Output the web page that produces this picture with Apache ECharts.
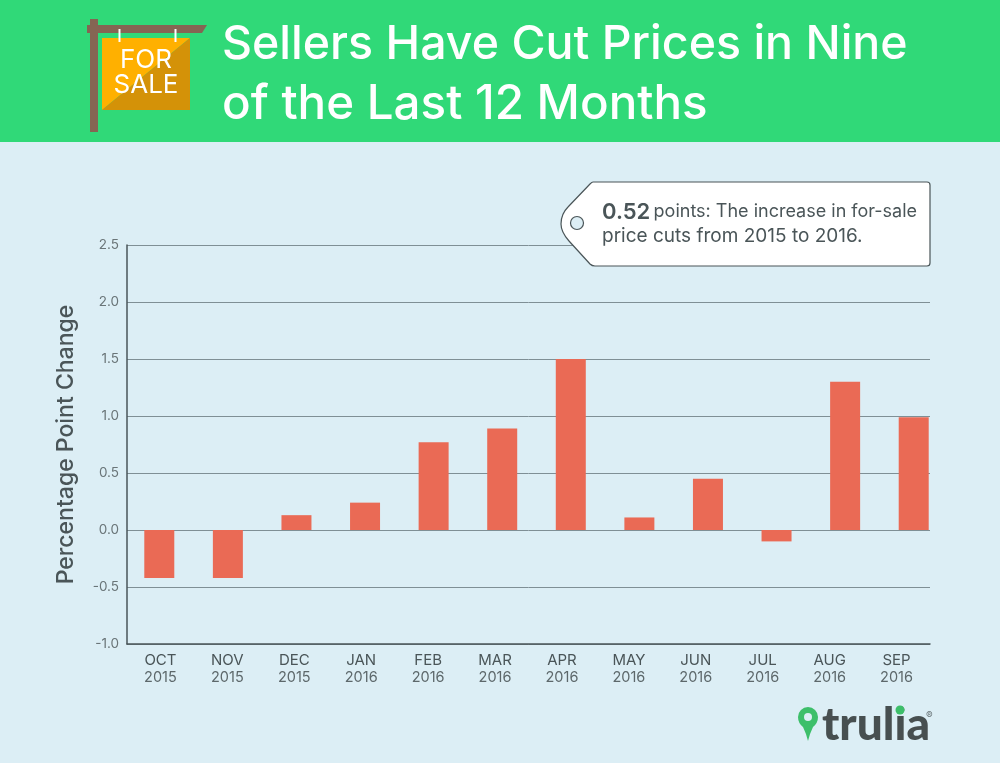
<!DOCTYPE html>
<html>
<head>
<meta charset="utf-8">
<title>Sellers Have Cut Prices in Nine of the Last 12 Months</title>
<style>html,body{margin:0;padding:0;background:#dceef5}#c{width:1000px;height:763px}</style>
<script src="https://cdn.jsdelivr.net/npm/echarts@6/dist/echarts.min.js"></script>
</head>
<body>
<div id="c"></div>
<script>
var months = ['OCT','NOV','DEC','JAN','FEB','MAR','APR','MAY','JUN','JUL','AUG','SEP'];
var years = ['2015','2015','2015','2016','2016','2016','2016','2016','2016','2016','2016','2016'];
var changes = [-0.42,-0.42,0.13,0.24,0.77,0.89,1.5,0.11,0.45,-0.1,1.3,0.99];
var titleLines = ['Sellers Have Cut Prices in Nine', 'of the Last 12 Months'];
var axisName = 'Percentage Point Change';

var DARK = '#4a5558', GRID = '#7f8f95', BG = '#dceef5';
var FONT = 'Inter, "Open Sans", sans-serif';
var categories = months.map(function (m, i) { return m + '\n' + years[i]; });

echarts.graphic.registerShape('priceTag', echarts.graphic.extendPath(
  'M593 182 L927 182 Q930 182 930 185 L930 263 Q930 266 927 266 L595 266 Q592 266 590 264 L569 241 Q561 232 561 224 Q561 214 568 207 L590 184 Q592 182 593 182 Z', {}));
echarts.graphic.registerShape('logoPin', echarts.graphic.extendPath(
  'M798 717 A10 10 0 0 1 818 717 Q818 723 813 727 Q810 733 808 741 Q806 733 803 727 Q798 723 798 717 Z', {}));

var chart = echarts.init(document.getElementById('c'), null, {renderer: 'canvas'});
chart.setOption({
  animation: false,
  backgroundColor: BG,
  textStyle: {fontFamily: FONT},
  title: {
    text: '{a|' + titleLines[0] + '}\n{b|' + titleLines[1] + '}', left: 217, top: 11,
    textStyle: {
      fontFamily: FONT, fontSize: 46.5, fontWeight: 500, color: '#fff', lineHeight: 59,
      rich: {
        a: {fontFamily: FONT, fontSize: 46.5, fontWeight: 500, color: '#fff', lineHeight: 59},
        b: {fontFamily: FONT, fontSize: 47.5, fontWeight: 500, color: '#fff', lineHeight: 59}
      }
    }
  },
  grid: [
    {left: 127, top: 245, width: 803, height: 399},
    {left: 125, top: 245, width: 823, height: 399}
  ],
  xAxis: [
    {
      type: 'category', gridIndex: 0, data: categories,
      axisTick: {show: false},
      axisLine: {onZero: false, lineStyle: {color: DARK, width: 1.5}},
      axisLabel: {
        interval: 0, margin: 7, fontFamily: FONT, fontSize: 14, lineHeight: 18, color: DARK,
        formatter: function (v) { var p = v.split('\n'); return '{m|' + p[0] + '}\n{y|' + p[1] + '}'; },
        rich: {
          m: {fontFamily: FONT, fontSize: 15, lineHeight: 18, color: DARK},
          y: {fontFamily: FONT, fontSize: 14.5, lineHeight: 18, color: '#5d686b'}
        }
      }
    },
    {type: 'category', gridIndex: 1, data: categories, show: false}
  ],
  yAxis: [
    {
      type: 'value', gridIndex: 0, min: -1, max: 2.5, interval: 0.5,
      name: axisName, nameLocation: 'middle', nameGap: 49, nameRotate: 90,
      nameTextStyle: {fontFamily: FONT, fontSize: 23, fontWeight: 500, color: DARK},
      axisTick: {show: false},
      axisLine: {show: true, lineStyle: {color: DARK, width: 1.5}},
      axisLabel: {margin: 8, fontFamily: FONT, fontSize: 13.5, color: '#6a7578',
        formatter: function (v) { return v.toFixed(1); }},
      splitLine: {show: true, lineStyle: {color: GRID, width: 1}}
    },
    {type: 'value', gridIndex: 1, min: -1, max: 2.5, interval: 0.5, show: false, splitLine: {show: false}}
  ],
  series: [{
    type: 'bar', xAxisIndex: 1, yAxisIndex: 1, data: changes, barWidth: 30, z: 3,
    itemStyle: {color: '#ea6a55'}
  }],
  graphic: {elements: [
    {type: 'rect', z: 1, shape: {x: 0, y: 0, width: 1000, height: 142}, style: {fill: '#30d978'}},
    // for-sale sign
    {type: 'rect', z: 2, shape: {x: 90, y: 19, width: 8, height: 113}, style: {fill: '#856553'}},
    {type: 'polygon', z: 2, shape: {points: [[87,25],[207,25],[202,33],[87,33]]}, style: {fill: '#856553'}},
    {type: 'rect', z: 3, shape: {x: 118.5, y: 29, width: 2, height: 13}, style: {fill: '#fff'}},
    {type: 'rect', z: 3, shape: {x: 174.5, y: 29, width: 2, height: 13}, style: {fill: '#fff'}},
    {type: 'polygon', z: 2, shape: {points: [[102,38],[190,38],[102,110]]}, style: {fill: '#ffb000'}},
    {type: 'polygon', z: 2, shape: {points: [[190,38],[190,110],[102,110]]}, style: {fill: '#d49208'}},
    {type: 'text', z: 4, x: 146, y: 60, style: {text: 'FOR', fill: '#fff', font: '400 26px ' + FONT, textAlign: 'center', textVerticalAlign: 'middle'}},
    {type: 'text', z: 4, x: 146, y: 85, style: {text: 'SALE', fill: '#fff', font: '400 26px ' + FONT, textAlign: 'center', textVerticalAlign: 'middle'}},
    // price tag callout
    {type: 'priceTag', z: 10, shape: {}, style: {fill: '#fff', stroke: DARK, lineWidth: 1.2}},
    {type: 'circle', z: 11, shape: {cx: 577, cy: 223, r: 6.5}, style: {fill: BG, stroke: DARK, lineWidth: 1.2}},
    {type: 'text', z: 11, x: 602, y: 201, style: {
      text: '{b|0.52} {r|points: The increase in for-sale}', fill: DARK,
      rich: {b: {fontFamily: FONT, fontSize: 22, fontWeight: 600, fill: DARK, color: DARK},
             r: {fontFamily: FONT, fontSize: 18, color: DARK, fill: DARK}}}},
    {type: 'text', z: 11, x: 602, y: 227, style: {text: 'price cuts from 2015 to 2016.', fill: DARK, font: '400 19px ' + FONT}},
    // logo
    {type: 'logoPin', z: 10, shape: {}, style: {fill: '#3dbf6a'}},
    {type: 'circle', z: 11, shape: {cx: 808, cy: 717, r: 4}, style: {fill: BG}},
    {type: 'text', z: 10, x: 822, y: 702, style: {text: 'trulia', fill: '#474f50', font: '900 46px Lato, ' + FONT}},
    {type: 'circle', z: 11, shape: {cx: 900, cy: 710, r: 4.5}, style: {fill: '#3dbf6a'}},
    {type: 'text', z: 10, x: 926, y: 711, style: {text: '®', fill: '#6a7578', font: '400 10px ' + FONT}}
  ]}
});
</script>
</body>
</html>
